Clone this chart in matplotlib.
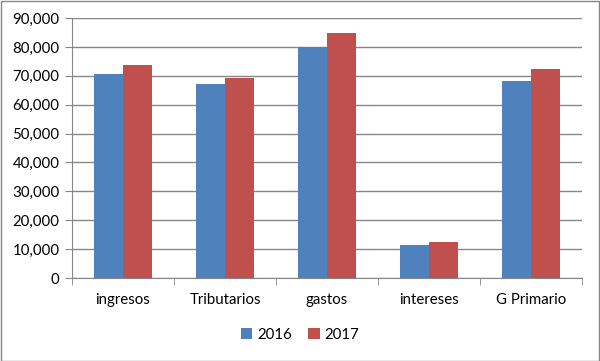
import matplotlib
matplotlib.use('Agg')
from matplotlib import pyplot as plt
from matplotlib.patches import Rectangle
from matplotlib.ticker import FuncFormatter, FixedLocator
import numpy as np

categories = ['ingresos', 'Tributarios', 'gastos', 'intereses', 'G Primario']
vals_2016 = [70600, 67200, 79900, 11500, 68300]
vals_2017 = [73700, 69200, 84800, 12500, 72400]
series_labels = ['2016', '2017']

plt.rcParams['font.family'] = ['Lato', 'DejaVu Sans']
plt.rcParams['font.size'] = 10.8

blue = '#4f81bd'
red = '#c0504d'
grid_c = '#868686'

fig = plt.figure(figsize=(6, 3.61), dpi=100)
ax = fig.add_axes([0.12, 0.2299, 0.85, 0.7202])

x = np.arange(len(categories))
w = 0.284
b1 = ax.bar(x - w / 2, vals_2016, w, color=blue, label=series_labels[0], zorder=3)
b2 = ax.bar(x + w / 2, vals_2017, w, color=red, label=series_labels[1], zorder=3)

ax.set_xlim(-0.5, len(categories) - 0.5)
ax.set_ylim(0, 90000)
ax.set_yticks(np.arange(0, 90001, 10000))
ax.yaxis.set_major_formatter(FuncFormatter(lambda v, p: f'{int(v):,}'))
ax.yaxis.grid(True, color=grid_c, linewidth=1, zorder=0)

ax.set_xticks(x)
ax.set_xticklabels(categories)
ax.xaxis.set_minor_locator(FixedLocator(np.arange(-0.5, len(categories), 1.0)))
ax.tick_params(axis='x', which='major', length=0, pad=11)
ax.tick_params(axis='x', which='minor', length=5, color=grid_c, direction='out')
ax.tick_params(axis='y', length=5, color=grid_c, direction='out', pad=4)

for s in ['top', 'right']:
    ax.spines[s].set_visible(False)
for s in ['left', 'bottom']:
    ax.spines[s].set_color(grid_c)

fig.legend(handles=[b1, b2], loc='center', bbox_to_anchor=(0.5, 0.072),
           ncol=2, frameon=False, handlelength=0.75, handleheight=0.75,
           handletextpad=0.35, columnspacing=1.1)

fig.add_artist(Rectangle((0.001, 0.001), 0.997, 0.997, transform=fig.transFigure,
                         fill=False, edgecolor=grid_c, linewidth=1))

fig.savefig('out.png', dpi=100)
